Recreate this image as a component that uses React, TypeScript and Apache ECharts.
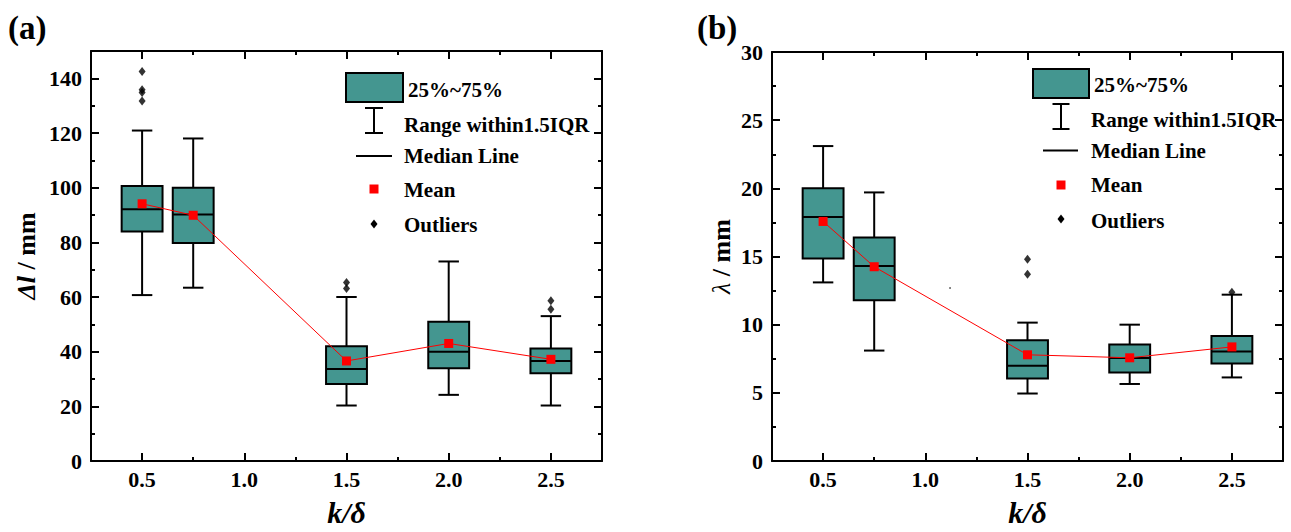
import React, { useEffect, useRef } from "react";
import * as echarts from "echarts";

// ---------- data ----------
const X_POS = [0.5, 0.75, 1.5, 2.0, 2.5];

// panel (a): Δl / mm
const A_MIN = [60.7, 63.4, 20.3, 24.2, 20.3];
const A_Q1 = [84.0, 79.8, 28.2, 33.9, 32.1];
const A_MED = [92.1, 90.2, 33.7, 40.0, 36.6];
const A_Q3 = [100.6, 100.0, 42.0, 50.9, 41.2];
const A_MAX = [120.9, 118.0, 60.0, 73.0, 53.0];
const A_MEAN = [94.1, 89.9, 36.6, 43.0, 37.2];
const A_OUT_X = [0.5, 0.5, 0.5, 0.5, 1.5, 1.5, 2.5, 2.5];
const A_OUT_Y = [142.5, 135.8, 134.8, 131.7, 65.3, 63.1, 58.6, 55.5];

// panel (b): λ / mm
const B_MIN = [13.1, 8.1, 4.95, 5.65, 6.13];
const B_Q1 = [14.85, 11.8, 6.06, 6.5, 7.15];
const B_MED = [17.9, 14.3, 6.98, 7.55, 8.03];
const B_Q3 = [20.0, 16.4, 8.86, 8.54, 9.17];
const B_MAX = [23.1, 19.7, 10.15, 10.0, 12.2];
const B_MEAN = [17.57, 14.25, 7.79, 7.57, 8.37];
const B_OUT_X = [1.5, 1.5, 2.5];
const B_OUT_Y = [14.8, 13.7, 12.38];

// ticks
const X_MAJOR = [0.5, 1.0, 1.5, 2.0, 2.5];
const X_MINOR = [0.75, 1.25, 1.75, 2.25];
const A_Y_MAJOR = [0, 20, 40, 60, 80, 100, 120, 140];
const A_Y_MINOR = [10, 30, 50, 70, 90, 110, 130];
const B_Y_MAJOR = [0, 5, 10, 15, 20, 25, 30];
const B_Y_MINOR = [2.5, 7.5, 12.5, 17.5, 22.5, 27.5];

const LEGEND_LABELS = ["25%~75%", "Range within1.5IQR", "Median Line", "Mean", "Outliers"];

// ---------- styles ----------
const FONT = '"Liberation Serif", "Times New Roman", serif';
const TEAL = "#449690";
const RED = "#ff0000";
const BOX_W = 0.2;
const CAP_W = 0.1;

function xAxes(gridIndex: number, min: number, max: number) {
  const base = {
    type: "value",
    gridIndex,
    min,
    max,
    splitLine: { show: false },
  };
  return [
    {
      ...base,
      position: "bottom",
      axisLine: { show: true, onZero: false, lineStyle: { color: "#000", width: 2 } },
      axisTick: { show: true, inside: true, length: 8, customValues: X_MAJOR, lineStyle: { color: "#000", width: 2 } },
      axisLabel: {
        show: true,
        customValues: X_MAJOR,
        formatter: (v: number) => v.toFixed(1),
        fontSize: 22,
        fontWeight: "bold",
        fontFamily: FONT,
        color: "#000",
        margin: 7,
      },
      name: "k/δ",
      nameLocation: "middle",
      nameGap: 36,
      nameTextStyle: { fontSize: 30, fontWeight: "bold", fontStyle: "italic", fontFamily: FONT, color: "#000" },
    },
    {
      ...base,
      position: "bottom",
      axisLine: { show: false, onZero: false },
      axisTick: { show: true, inside: true, length: 4, customValues: X_MINOR, lineStyle: { color: "#000", width: 2 } },
      axisLabel: { show: false },
    },
    {
      ...base,
      position: "top",
      axisLine: { show: true, onZero: false, lineStyle: { color: "#000", width: 2 } },
      axisTick: { show: true, inside: true, length: 8, customValues: X_MAJOR, lineStyle: { color: "#000", width: 2 } },
      axisLabel: { show: false },
    },
    {
      ...base,
      position: "top",
      axisLine: { show: false, onZero: false },
      axisTick: { show: true, inside: true, length: 4, customValues: X_MINOR, lineStyle: { color: "#000", width: 2 } },
      axisLabel: { show: false },
    },
  ];
}

function yAxes(gridIndex: number, min: number, max: number, major: number[], minor: number[], name: string, nameGap: number, rich: any) {
  const base = {
    type: "value",
    gridIndex,
    min,
    max,
    splitLine: { show: false },
  };
  return [
    {
      ...base,
      position: "left",
      axisLine: { show: true, onZero: false, lineStyle: { color: "#000", width: 2 } },
      axisTick: { show: true, inside: true, length: 8, customValues: major, lineStyle: { color: "#000", width: 2 } },
      axisLabel: {
        show: true,
        customValues: major,
        fontSize: 22,
        fontWeight: "bold",
        fontFamily: FONT,
        color: "#000",
        margin: 9,
      },
      name,
      nameLocation: "middle",
      nameRotate: 90,
      nameGap,
      nameTextStyle: { fontSize: 26, fontWeight: "bold", fontFamily: FONT, color: "#000", rich },
    },
    {
      ...base,
      position: "left",
      axisLine: { show: false, onZero: false },
      axisTick: { show: true, inside: true, length: 4, customValues: minor, lineStyle: { color: "#000", width: 2 } },
      axisLabel: { show: false },
    },
    {
      ...base,
      position: "right",
      axisLine: { show: true, onZero: false, lineStyle: { color: "#000", width: 2 } },
      axisTick: { show: true, inside: true, length: 8, customValues: major, lineStyle: { color: "#000", width: 2 } },
      axisLabel: { show: false },
    },
    {
      ...base,
      position: "right",
      axisLine: { show: false, onZero: false },
      axisTick: { show: true, inside: true, length: 4, customValues: minor, lineStyle: { color: "#000", width: 2 } },
      axisLabel: { show: false },
    },
  ];
}

function boxRender(params: any, api: any) {
  const x = api.value(0);
  const lo = api.coord([x, api.value(1)]);
  const q1 = api.coord([x, api.value(2)]);
  const med = api.coord([x, api.value(3)]);
  const q3 = api.coord([x, api.value(4)]);
  const hi = api.coord([x, api.value(5)]);
  const bw = api.size([BOX_W, 0])[0];
  const cw = api.size([CAP_W, 0])[0];
  const cx = q1[0];
  const ls = { stroke: "#000", lineWidth: 2 };
  return {
    type: "group",
    children: [
      { type: "line", shape: { x1: cx, y1: hi[1], x2: cx, y2: q3[1] }, style: ls },
      { type: "line", shape: { x1: cx, y1: q1[1], x2: cx, y2: lo[1] }, style: ls },
      { type: "line", shape: { x1: cx - cw / 2, y1: hi[1], x2: cx + cw / 2, y2: hi[1] }, style: ls },
      { type: "line", shape: { x1: cx - cw / 2, y1: lo[1], x2: cx + cw / 2, y2: lo[1] }, style: ls },
      {
        type: "rect",
        shape: { x: cx - bw / 2, y: q3[1], width: bw, height: q1[1] - q3[1] },
        style: { fill: TEAL, stroke: "#000", lineWidth: 2 },
      },
      { type: "line", shape: { x1: cx - bw / 2, y1: med[1], x2: cx + bw / 2, y2: med[1] }, style: ls },
    ],
  };
}

function panelSeries(gi: number, mins: number[], q1s: number[], meds: number[], q3s: number[], maxs: number[], means: number[], ox: number[], oy: number[]) {
  const xi = gi * 4;
  const yi = gi * 4;
  return [
    {
      type: "custom",
      xAxisIndex: xi,
      yAxisIndex: yi,
      renderItem: boxRender,
      encode: { x: 0, y: [1, 2, 3, 4, 5] },
      data: X_POS.map((x, i) => [x, mins[i], q1s[i], meds[i], q3s[i], maxs[i]]),
      z: 2,
      silent: true,
    },
    {
      type: "line",
      xAxisIndex: xi,
      yAxisIndex: yi,
      data: X_POS.map((x, i) => [x, means[i]]),
      symbol: "rect",
      symbolSize: 9,
      smooth: false,
      itemStyle: { color: RED },
      lineStyle: { color: RED, width: 1 },
      z: 3,
      silent: true,
    },
    {
      type: "scatter",
      xAxisIndex: xi,
      yAxisIndex: yi,
      data: ox.map((x, i) => [x, oy[i]]),
      symbol: "diamond",
      symbolSize: [7, 9],
      itemStyle: { color: "#000" },
      z: 4,
      silent: true,
    },
  ];
}

function legendGraphics(o: {
  rx: number; ry: number; rw: number; rh: number; t0x: number; t0y: number;
  ix: number; iy1: number; iy2: number; cap: number; tx: number; t1y: number;
  mx1: number; mx2: number; my: number; t2y: number; sqy: number; t3y: number; dy: number; t4y: number;
}) {
  const txt = (x: number, y: number, text: string) => ({
    type: "text",
    x,
    y,
    style: { text, fill: "#000", fontSize: 21, fontWeight: "bold", fontFamily: FONT, textAlign: "left", textVerticalAlign: "middle", verticalAlign: "middle" },
    silent: true,
  });
  const ls = { stroke: "#000", lineWidth: 2 };
  return [
    { type: "rect", shape: { x: o.rx, y: o.ry, width: o.rw, height: o.rh }, style: { fill: TEAL, stroke: "#000", lineWidth: 2 }, silent: true },
    txt(o.t0x, o.t0y, LEGEND_LABELS[0]),
    { type: "line", shape: { x1: o.ix, y1: o.iy1, x2: o.ix, y2: o.iy2 }, style: ls, silent: true },
    { type: "line", shape: { x1: o.ix - o.cap, y1: o.iy1, x2: o.ix + o.cap, y2: o.iy1 }, style: ls, silent: true },
    { type: "line", shape: { x1: o.ix - o.cap, y1: o.iy2, x2: o.ix + o.cap, y2: o.iy2 }, style: ls, silent: true },
    txt(o.tx, o.t1y, LEGEND_LABELS[1]),
    { type: "line", shape: { x1: o.mx1, y1: o.my, x2: o.mx2, y2: o.my }, style: ls, silent: true },
    txt(o.tx, o.t2y, LEGEND_LABELS[2]),
    { type: "rect", shape: { x: o.ix - 4.5, y: o.sqy - 4.5, width: 9, height: 9 }, style: { fill: RED }, silent: true },
    txt(o.tx, o.t3y, LEGEND_LABELS[3]),
    {
      type: "polygon",
      shape: { points: [[o.ix, o.dy - 4.5], [o.ix + 3.5, o.dy], [o.ix, o.dy + 4.5], [o.ix - 3.5, o.dy]] },
      style: { fill: "#000" },
      silent: true,
    },
    txt(o.tx, o.t4y, LEGEND_LABELS[4]),
  ];
}

export default function App() {
  const ref = useRef<HTMLDivElement>(null);
  useEffect(() => {
    if (!ref.current) return;
    const chart = echarts.init(ref.current, null, { renderer: "svg" });
    const richA = {
      i: { fontSize: 26, fontWeight: "bold", fontStyle: "italic", fontFamily: FONT, color: "#000" },
      n: { fontSize: 26, fontWeight: "bold", fontFamily: FONT, color: "#000" },
    };
    const richB = {
      i: { fontSize: 26, fontWeight: "normal", fontStyle: "italic", fontFamily: FONT, color: "#000" },
      n: { fontSize: 26, fontWeight: "bold", fontFamily: FONT, color: "#000" },
    };
    const option: any = {
      animation: false,
      backgroundColor: "#fff",
      grid: [
        { left: 91, top: 51, width: 511, height: 412, containLabel: false },
        { left: 772, top: 52, width: 511, height: 411, containLabel: false },
      ],
      xAxis: [...xAxes(0, 0.25, 2.75), ...xAxes(1, 0.25, 2.75)],
      yAxis: [
        ...yAxes(0, 0, 150, A_Y_MAJOR, A_Y_MINOR, "{i|Δl} {n|/ mm}", 52, richA),
        ...yAxes(1, 0, 30, B_Y_MAJOR, B_Y_MINOR, "{i|λ} {n|/ mm}", 38, richB),
      ],
      series: [
        ...panelSeries(0, A_MIN, A_Q1, A_MED, A_Q3, A_MAX, A_MEAN, A_OUT_X, A_OUT_Y),
        ...panelSeries(1, B_MIN, B_Q1, B_MED, B_Q3, B_MAX, B_MEAN, B_OUT_X, B_OUT_Y),
      ],
      graphic: {
        elements: [
          {
            type: "text", x: 8, y: 28,
            style: { text: "(a)", fill: "#000", fontSize: 33, fontWeight: "bold", fontFamily: FONT, verticalAlign: "middle", textVerticalAlign: "middle" },
            silent: true,
          },
          {
            type: "text", x: 697, y: 28,
            style: { text: "(b)", fill: "#000", fontSize: 33, fontWeight: "bold", fontFamily: FONT, verticalAlign: "middle", textVerticalAlign: "middle" },
            silent: true,
          },
          ...legendGraphics({
            rx: 346, ry: 73, rw: 57, rh: 29, t0x: 408, t0y: 90,
            ix: 374, iy1: 108, iy2: 133, cap: 9, tx: 404, t1y: 125,
            mx1: 356, mx2: 392, my: 156, t2y: 156, sqy: 189, t3y: 189.5, dy: 224, t4y: 225,
          }),
          ...legendGraphics({
            rx: 1033, ry: 69, rw: 56, rh: 29, t0x: 1094, t0y: 84.5,
            ix: 1061, iy1: 104, iy2: 129, cap: 8.5, tx: 1091, t1y: 120,
            mx1: 1043, mx2: 1078, my: 150.5, t2y: 150.5, sqy: 185, t3y: 184.5, dy: 219, t4y: 220.5,
          }),
          { type: "circle", shape: { cx: 950, cy: 288, r: 0.8 }, style: { fill: "#444" }, silent: true },
        ],
      },
    };
    chart.setOption(option);
    return () => chart.dispose();
  }, []);
  return (
    <div
      ref={ref}
      style={{ position: "fixed", left: 0, top: 0, width: 1291, height: 532, background: "#fff" }}
    />
  );
}
